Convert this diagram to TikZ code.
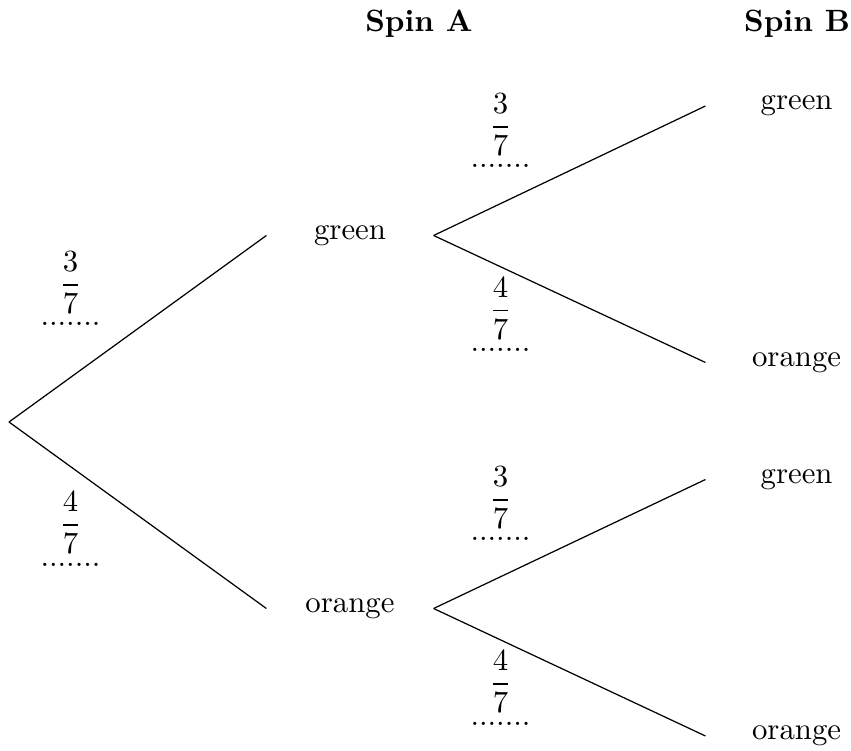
\documentclass[tikz,border=0pt]{standalone}
\usepackage{amsmath}
\begin{document}
\begin{tikzpicture}[x=0.3247pt,y=-0.3247pt,
  br/.style={line width=0.4pt},
  lvlA/.style={inner sep=0pt, minimum width=53.9pt},
  lvlB/.style={inner sep=0pt, minimum width=58.8pt},
  hdr/.style={font=\bfseries, anchor=base, inner sep=0pt},
  frc/.style={anchor=base, inner sep=0pt},
  dts/.style={anchor=base, inner sep=0pt}]
\useasboundingbox (0,0) rectangle (851,751);
% headers
\node[hdr] (hA) at (419,32) {Spin A};
\node[hdr] (hB) at (797,32) {Spin B};
% tree nodes
\coordinate (root) at (9,422);
\node[lvlA] (a1) at (350,235.5) {green};
\node[lvlA] (a2) at (350,608.5) {orange};
\node[lvlB] (b1) at (796.6,106) {green};
\node[lvlB] (b2) at (796.6,362.5) {orange};
\node[lvlB] (b3) at (796.6,479.5) {green};
\node[lvlB] (b4) at (796.6,736) {orange};
% branches
\draw[br] (root) -- (a1.west);
\draw[br] (root) -- (a2.west);
\draw[br] (a1.east) -- (b1.west);
\draw[br] (a1.east) -- (b2.west);
\draw[br] (a2.east) -- (b3.west);
\draw[br] (a2.east) -- (b4.west);
% probability labels
\node[frc] (f1) at (70.5,292.7) {$\dfrac{3}{7}$};
\node[dts] (d1) at (70.5,326) {.......};
\node[frc] (f2) at (70.5,532.7) {$\dfrac{4}{7}$};
\node[dts] (d2) at (70.5,566) {.......};
\node[frc] (f3) at (500.5,134.7) {$\dfrac{3}{7}$};
\node[dts] (d3) at (500.5,168) {.......};
\node[frc] (f4) at (500.5,318.4) {$\dfrac{4}{7}$};
\node[dts] (d4) at (500.5,351.5) {.......};
\node[frc] (f5) at (500.5,507.7) {$\dfrac{3}{7}$};
\node[dts] (d5) at (500.5,541) {.......};
\node[frc] (f6) at (500.5,691.7) {$\dfrac{4}{7}$};
\node[dts] (d6) at (500.5,725) {.......};
\end{tikzpicture}
\end{document}
